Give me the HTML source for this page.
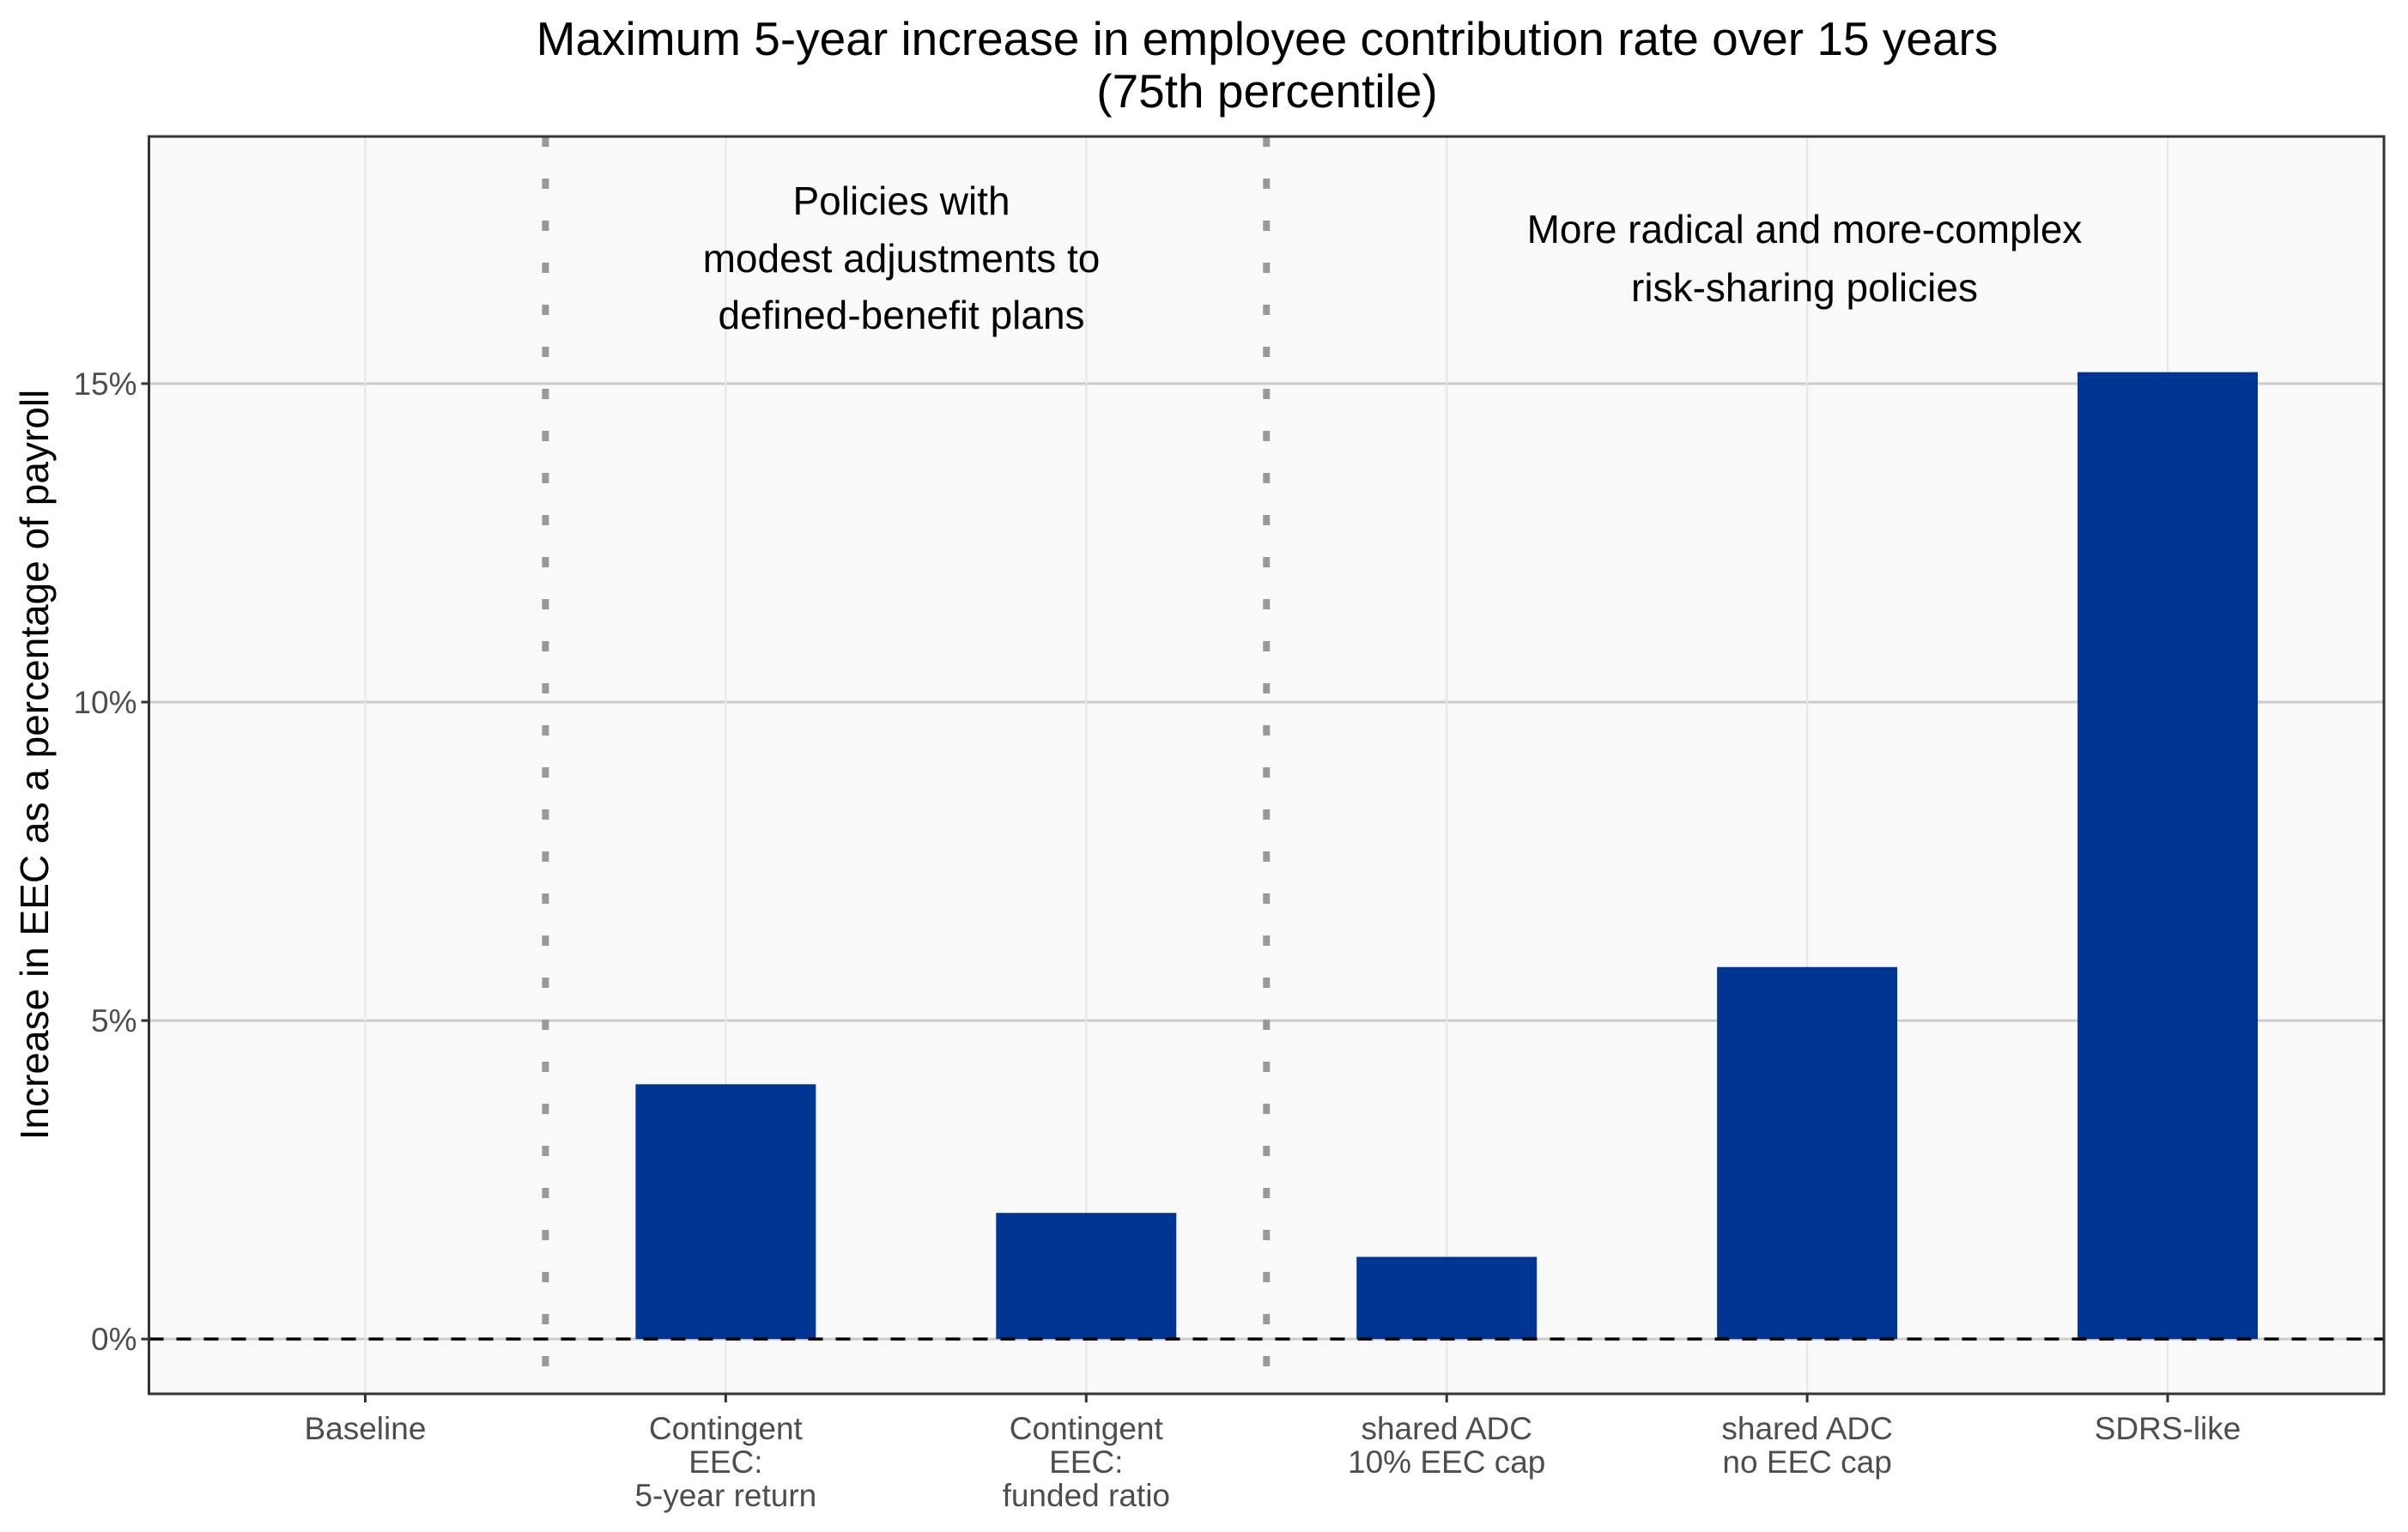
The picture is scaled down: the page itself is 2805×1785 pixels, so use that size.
<!DOCTYPE html>
<html><head><meta charset="utf-8"><style>
html,body{margin:0;padding:0;background:#fff;}
svg{display:block;font-family:"Liberation Sans",Arial,sans-serif;}
</style></head><body>
<svg id="chart" width="2805" height="1785" viewBox="0 0 2805 1785" xmlns="http://www.w3.org/2000/svg">
<text x="1476" y="64" font-size="55" text-anchor="middle" fill="#000">Maximum 5-year increase in employee contribution rate over 15 years</text>
<text x="1476" y="125" font-size="55" text-anchor="middle" fill="#000">(75th percentile)</text>
<rect x="173.5" y="159" width="2603.5" height="1465" fill="#f9f9f9"/>
<g id="grid"></g>
<g id="bars"></g>
<g id="overlay"></g>
<rect x="173.5" y="159" width="2603.5" height="1465" fill="none" stroke="#333" stroke-width="3"/>
<g id="axes"></g>
<text font-size="46" text-anchor="middle" fill="#000">
<tspan x="1050" y="250">Policies with</tspan><tspan x="1050" y="317">modest adjustments to</tspan><tspan x="1050" y="383">defined-benefit plans</tspan></text>
<text font-size="46" text-anchor="middle" fill="#000">
<tspan x="2102" y="283">More radical and more-complex</tspan><tspan x="2102" y="351">risk-sharing policies</tspan></text>
<text transform="translate(56,891) rotate(-90)" font-size="46" text-anchor="middle" fill="#000">Increase in EEC as a percentage of payroll</text>
</svg>
<script>
const categories = [["Baseline"],["Contingent","EEC:","5-year return"],["Contingent","EEC:","funded ratio"],["shared ADC","10% EEC cap"],["shared ADC","no EEC cap"],["SDRS-like"]];
const values = [0, 4.0, 1.98, 1.29, 5.84, 15.18];
const yTicks = [0, 5, 10, 15];
const yTickLabels = ["0%","5%","10%","15%"];
const dividers = [0.5, 2.5];

const NS="http://www.w3.org/2000/svg";
const PL=173.5, PR=2777, PT=159, PB=1624;
const n=categories.length;
const xMin=-0.6, xMax=n-1+0.6;
const yMin=-0.86, yMax=18.88;
function x(i){return PL+(i-xMin)/(xMax-xMin)*(PR-PL);}
function y(v){return PB-(v-yMin)/(yMax-yMin)*(PB-PT);}
function mk(tag,attrs,parent){const e=document.createElementNS(NS,tag);for(const k in attrs)e.setAttribute(k,attrs[k]);document.getElementById(parent).appendChild(e);return e;}
const bw=(x(1)-x(0))*0.5;

yTicks.forEach((t,i)=>{
  const l=mk('line',{x1:PL,x2:PR,y1:y(t),y2:y(t),stroke:'#cccccc','stroke-width':3},'grid');
  
  
  const tk=mk('line',{x1:PL-9,x2:PL,y1:y(t),y2:y(t),stroke:'#333','stroke-width':3},'axes');
  
  
  const tx=mk('text',{x:PL-14,y:y(t)+13,'font-size':37,'text-anchor':'end',fill:'#4d4d4d'},'axes');
  tx.textContent=yTickLabels[i];
  
  
});
categories.forEach((c,i)=>{
  const l=mk('line',{x1:x(i),x2:x(i),y1:PT,y2:PB,stroke:'#e6e6e6','stroke-width':2},'grid');
  
  
  const b=mk('rect',{x:x(i)-bw/2,width:bw,y:Math.min(y(values[i]),y(0)),height:Math.abs(y(0)-y(values[i])),fill:'#003594'},'bars');
  
  
  const tk=mk('line',{x1:x(i),x2:x(i),y1:PB,y2:PB+10,stroke:'#333','stroke-width':3},'axes');
  
  
  const tx=mk('text',{'font-size':37,'text-anchor':'middle',fill:'#4d4d4d'},'axes');
  
  
  c.forEach((line,j)=>{const s=document.createElementNS(NS,'tspan');s.setAttribute('x',x(i));s.setAttribute('y',1677+j*39);s.textContent=line;tx.appendChild(s);});
});
dividers.forEach(d=>{
  const l=mk('line',{x1:x(d),x2:x(d),y1:PT,y2:PB,stroke:'#999999','stroke-width':8,'stroke-dasharray':'12 37'},'overlay');
  
  
});
const z=mk('line',{x1:PL,x2:PR,y1:y(0),y2:y(0),stroke:'#000','stroke-width':3.5,'stroke-dasharray':'17 15'},'overlay');


</script>
</body></html>
